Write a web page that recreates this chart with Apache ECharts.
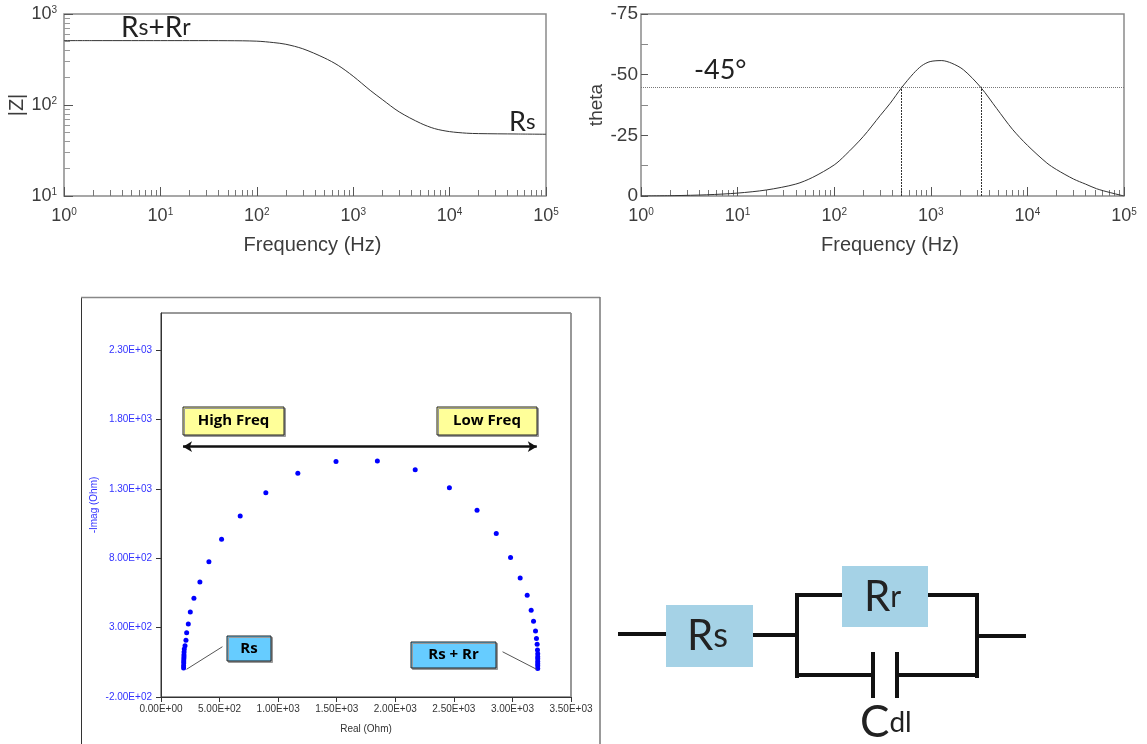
<!DOCTYPE html>
<html><head><meta charset="utf-8">
<style>html,body{margin:0;padding:0;background:#fff}#c{width:1147px;height:744px}</style>
<script src="https://cdn.jsdelivr.net/npm/echarts@6/dist/echarts.min.js"></script>
</head><body><div id="c"></div>
<script>
const magFreq=[1,2,5,10,20,50,100,150,200,300,500,700,1000,1500,2000,3000,5000,7000,10000,15000,20000,50000,100000];
const magValues=[510,510,510,510,510,509,503,485,465,415,330,272,207,145,115,84,63,55,51,49,48.5,48,47.7];
const thetaFreq=[1,2.2,4.8,10,20,40,60,100,130,200,300,380,500,662,807,985,1300,1650,2180,3300,4820,7000,10000,15900,20000,30000,40000,52000,72000,93000,100000];
const thetaValues=[0,-0.15,-0.5,-1.2,-2.5,-4.9,-7.7,-12.8,-16.8,-24.5,-33.2,-38.2,-44.7,-50.5,-53.7,-55.4,-55.8,-54.7,-52,-44.7,-36,-27.5,-20.9,-13.6,-10.9,-7,-4.9,-3,-1.4,-0.3,0];
const nyqReal=[193,193,194,194,195,196,196,197,199,205,213,219,233,250,281,332,409,517,676,895,1168,1494,1847,2170,2462,2698,2862,2984,3066,3126,3160,3180,3197,3205,3211,3214,3216,3216,3216,3216,3216,3216,3216];
const nyqImag=[9,25,45,60,75,90,105,125,145,170,209,262,326,413,512,629,774,937,1103,1271,1411,1497,1500,1437,1307,1146,978,805,658,533,425,346,276,221,180,139,112,90,75,55,40,25,5];
const decadeMinor=[2,3,4,5,6,7,8,9];
const freqMinor=[1,10,100,1000,10000].flatMap(d=>decadeMinor.map(m=>m*d));
const magMinor=[10,100].flatMap(d=>decadeMinor.map(m=>m*d));
const nyqYTicks=[-200,300,800,1300,1800,2300];
const pairs=(a,b)=>a.map((v,i)=>[v,b[i]]);
const AX='#555', TXT='#3c3c3c', SANS='"Liberation Sans",Arial,sans-serif', HUM='Lato,"Open Sans",sans-serif';
const expLabel=v=>'{b|10}{s|'+Math.round(Math.log10(v))+'}';
const expRich={b:{fontSize:18,color:TXT,fontFamily:SANS},s:{fontSize:10,color:TXT,fontFamily:SANS,verticalAlign:'top',padding:[0,0,8,0]}};
const sci=v=>{const [m,e]=v.toExponential(2).split('e');const n=Number(e);return m+'E'+(n<0?'-':'+')+String(Math.abs(n)).padStart(2,'0');};
const logX=(grid,name)=>[
 {type:'log',gridIndex:grid,logBase:10,min:1,max:100000,position:'bottom',name,nameLocation:'middle',nameGap:39,
  nameTextStyle:{fontSize:20,color:TXT,fontFamily:SANS,padding:[0,0,0,15]},
  axisLine:{show:false},splitLine:{show:false},minorTick:{show:false},
  axisTick:{inside:true,length:9,lineStyle:{color:AX}},
  axisLabel:{formatter:expLabel,rich:expRich,margin:11,showMinLabel:true,showMaxLabel:true,hideOverlap:false}},
 {type:'log',gridIndex:grid,logBase:10,min:1,max:100000,position:'bottom',
  axisLine:{show:false},splitLine:{show:false},axisLabel:{show:false},
  axisTick:{inside:true,length:6,customValues:freqMinor,lineStyle:{color:'#777'}}}
];
const txt=(x,y,text,font,extra)=>({type:'text',x,y,silent:true,z:20,style:Object.assign({text,font,fill:'#222',align:'left',verticalAlign:'middle'},extra||{})});
const subRich=(big,small,color)=>({r:{fontSize:big,fontFamily:HUM,color:color||'#222'},s:{fontSize:small,fontFamily:HUM,color:color||'#222'}});
const wire=(x1,y1,x2,y2,w)=>({type:'line',silent:true,z:15,shape:{x1,y1,x2,y2},style:{stroke:w&&w<3?'#555':'#111',lineWidth:w||4,lineCap:'square'}});
const box=(x,y,width,height,fill,stroke,shadow)=>({type:'rect',silent:true,z:18,shape:{x,y,width,height},style:Object.assign({fill,stroke:stroke||null,lineWidth:stroke?1:0},shadow?{shadowColor:'#999',shadowOffsetX:1.5,shadowOffsetY:1.5,shadowBlur:0}:{})});
const labelBox=(x,y,w,h,fill,text)=>[box(x,y,w,h,fill,'#222',true),{type:'text',silent:true,z:19,x:x+w/2,y:y+h/2,style:{text,font:'bold 15px "Open Sans",sans-serif',fill:'#000',align:'center',verticalAlign:'middle'}}];
const option={
 animation:false,
 grid:[
  {left:64,top:14,width:482,height:182,show:true,borderColor:'#8a8a8a',borderWidth:1.5,backgroundColor:'transparent'},
  {left:641,top:14,width:483,height:182,show:true,borderColor:'#8a8a8a',borderWidth:1.5,backgroundColor:'transparent'},
  {left:161,top:313,width:410,height:384,show:true,borderColor:'#333',borderWidth:1,backgroundColor:'transparent'}
 ],
 xAxis:[...logX(0,'Frequency (Hz)'),...logX(1,'Frequency (Hz)'),
  {type:'value',gridIndex:2,min:0,max:3500,interval:500,name:'Real (Ohm)',nameLocation:'middle',nameGap:27,
   nameTextStyle:{fontSize:10,color:'#333',fontFamily:SANS},splitLine:{show:false},
   axisLine:{onZero:false,lineStyle:{color:'#333'}},axisTick:{length:5,lineStyle:{color:'#333'}},
   axisLabel:{formatter:sci,fontSize:10,color:'#333',fontFamily:SANS,margin:7,showMinLabel:true,showMaxLabel:true,hideOverlap:false}}
 ],
 yAxis:[
  {type:'log',gridIndex:0,logBase:10,min:10,max:1000,position:'left',name:'|Z|',nameLocation:'middle',nameGap:32,
   nameTextStyle:{fontSize:20,color:TXT,fontFamily:SANS},axisLine:{show:false},splitLine:{show:false},minorTick:{show:false},
   axisTick:{inside:true,length:9,lineStyle:{color:AX}},
   axisLabel:{formatter:expLabel,rich:expRich,margin:7,showMinLabel:true,showMaxLabel:true,hideOverlap:false}},
  {type:'log',gridIndex:0,logBase:10,min:10,max:1000,position:'left',axisLine:{show:false},splitLine:{show:false},axisLabel:{show:false},
   axisTick:{inside:true,length:6,customValues:magMinor,lineStyle:{color:'#999'}}},
  {type:'value',gridIndex:1,inverse:true,min:-75,max:0,interval:25,position:'left',name:'theta',nameLocation:'middle',nameGap:32,
   nameTextStyle:{fontSize:19,color:TXT,fontFamily:SANS},axisLine:{show:false},splitLine:{show:false},
   axisTick:{inside:true,length:7,lineStyle:{color:AX}},minorTick:{show:true,splitNumber:2,length:7,lineStyle:{color:'#888'}},
   axisLabel:{fontSize:19,color:TXT,fontFamily:SANS,margin:3,showMinLabel:true,showMaxLabel:true}},
  {type:'value',gridIndex:2,min:-200,max:2566,name:'-Imag (Ohm)',nameLocation:'middle',nameGap:62,
   nameTextStyle:{fontSize:10,color:'#3333ff',fontFamily:SANS},splitLine:{show:false},
   axisLine:{onZero:false,lineStyle:{color:'#333'}},axisTick:{length:5,customValues:nyqYTicks,lineStyle:{color:'#333'}},
   axisLabel:{formatter:sci,customValues:nyqYTicks,fontSize:10,color:'#3333ff',fontFamily:SANS,margin:9}}
 ],
 series:[
  {type:'line',xAxisIndex:0,yAxisIndex:0,data:pairs(magFreq,magValues),smooth:0.3,showSymbol:false,lineStyle:{color:'#333',width:1}},
  {type:'line',xAxisIndex:2,yAxisIndex:2,data:pairs(thetaFreq,thetaValues),smooth:0.3,showSymbol:false,lineStyle:{color:'#333',width:1},
   markLine:{silent:true,symbol:'none',label:{show:false},data:[
     [{coord:[1,-45],lineStyle:{type:'dotted',color:'#777',width:1}},{coord:[100000,-45]}],
     [{coord:[500,0],lineStyle:{type:[2,1],color:'#333',width:1}},{coord:[500,-45]}],
     [{coord:[3300,0],lineStyle:{type:[2,1],color:'#333',width:1}},{coord:[3300,-45]}]
   ]}},
  {type:'scatter',xAxisIndex:4,yAxisIndex:3,data:pairs(nyqReal,nyqImag),symbolSize:5,itemStyle:{color:'#0000ff',opacity:1},
   markLine:{silent:true,symbol:['arrow','arrow'],symbolSize:[8,9],label:{show:false},lineStyle:{color:'#111',width:2.5,type:'solid'},
    data:[[{coord:[188,1603]},{coord:[3208,1603]}]]}}
 ],
 graphic:[
  {type:'line',silent:true,z:10,shape:{x1:81.5,y1:744,x2:81.5,y2:297.5},style:{stroke:'#333',lineWidth:1}},
  {type:'line',silent:true,z:10,shape:{x1:81,y1:297.5,x2:600,y2:297.5},style:{stroke:'#888',lineWidth:1.5}},
  {type:'line',silent:true,z:10,shape:{x1:600,y1:297,x2:600,y2:744},style:{stroke:'#777',lineWidth:1.5}},
  {type:'line',silent:true,z:10,shape:{x1:571,y1:313,x2:571,y2:697},style:{stroke:'#999',lineWidth:1.5}},
  txt(121,28,'{r|R}{s|s}{r|+}{r|R}{s|r}','22px '+HUM,{rich:subRich(28,23)}),
  txt(509,122,'{r|R}{s|s}','22px '+HUM,{rich:subRich(27,22)}),
  txt(694,70,'-45°','27px '+HUM),
  ...labelBox(183,407,101,28,'#ffff99','High Freq'),
  ...labelBox(437,407,100,28,'#ffff99','Low Freq'),
  ...labelBox(227,636,44,25,'#66ccff','Rs'),
  ...labelBox(411,642,85,26,'#66ccff','Rs + Rr'),
  wire(187,669,222,647,1),wire(503,652,536,669,1),
  wire(620,634,666,634),wire(753,635,797,635),wire(797,595,797,676),wire(797,595,842,595),
  wire(928,595,977,595),wire(977,595,977,676),wire(797,675,873,675),wire(897,675,977,675),
  wire(977,636,1024,636),wire(873,654,873,696),wire(897,654,897,696),
  box(666,605,87,62,'#a5d2e6'),box(842,566,86,61,'#a5d2e6'),
  txt(687,636,'{r|R}{s|s}','36px '+HUM,{rich:subRich(42,34)}),
  txt(864,597,'{r|R}{s|r}','36px '+HUM,{rich:subRich(42,30)}),
  txt(860,723,'{r|C}{s|dl}','36px '+HUM,{rich:subRich(44,28)})
 ]
};
echarts.init(document.getElementById('c'),null,{renderer:'canvas'}).setOption(option);
</script></body></html>
